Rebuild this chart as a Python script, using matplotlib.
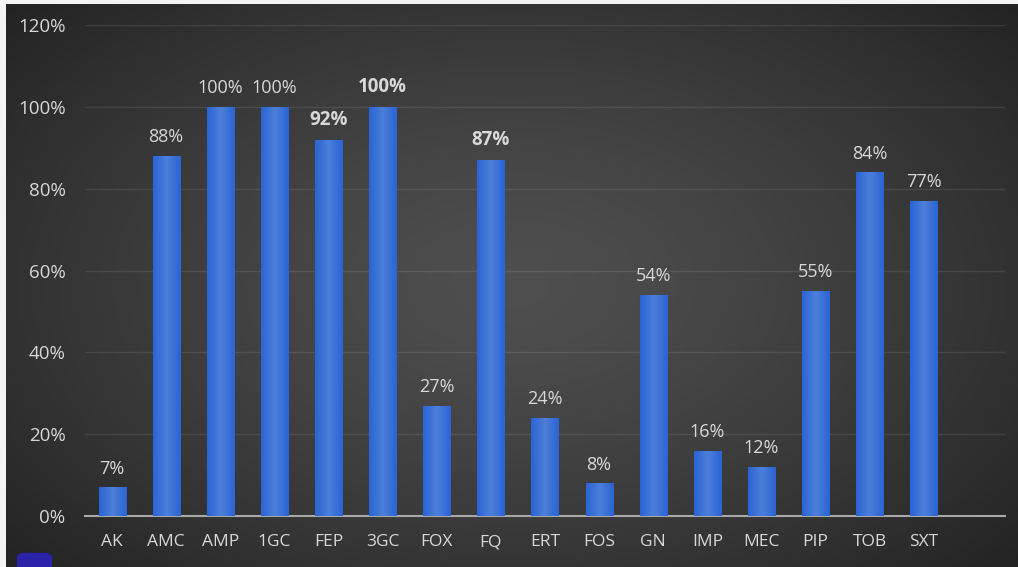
import numpy as np
import matplotlib
matplotlib.use("Agg")
import matplotlib.pyplot as plt
from matplotlib.colors import LinearSegmentedColormap
from matplotlib.patches import FancyBboxPatch

# antibiotic classes and resistance share (fraction)
classes = ["AK", "AMC", "AMP", "1GC", "FEP", "3GC", "FOX", "FQ",
           "ERT", "FOS", "GN", "IMP", "MEC", "PIP", "TOB", "SXT"]
resist = [0.07, 0.88, 1.00, 1.00, 0.92, 1.00, 0.27, 0.87,
          0.24, 0.08, 0.54, 0.16, 0.12, 0.55, 0.84, 0.77]
labels = ["7%", "88%", "100%", "100%", "92%", "100%", "27%", "87%",
          "24%", "8%", "54%", "16%", "12%", "55%", "84%", "77%"]
bold_index = [4, 5, 7]
yticks = [0, 0.2, 0.4, 0.6, 0.8, 1.0, 1.2]
ytick_labels = ["0%", "20%", "40%", "60%", "80%", "100%", "120%"]

W, H = 1018, 567
fig = plt.figure(figsize=(W / 100, H / 100), dpi=100, facecolor="#f4f4f4")

# dark panel with radial vignette
bg = fig.add_axes([6 / W, 0, 1 - 6 / W, 1 - 4 / H])
yy, xx = np.mgrid[-1:1:300j, -1:1:500j]
r = np.sqrt(xx ** 2 + (yy * 0.9) ** 2) / np.sqrt(1 + 0.81)
shade = 0x50 - (0x50 - 0x24) * r ** 1.3
img = np.dstack([shade, shade - 1, shade - 1]) / 255.0
bg.imshow(img, aspect="auto", extent=[0, 1, 0, 1], interpolation="bilinear")
bg.set_axis_off()

ax = fig.add_axes([85 / W, 1 - 516 / H, (1005 - 85) / W, (516 - 25) / H])
ax.patch.set_alpha(0)
x = np.arange(len(classes))
bars = ax.bar(x, resist, width=0.5, color="#3a72d8", zorder=2)

# horizontal gradient inside each bar
grad_cmap = LinearSegmentedColormap.from_list(
    "barblue", ["#2a64d6", "#4c7fd8", "#2a64d6"])
grad = np.linspace(0, 1, 64).reshape(1, -1)
for b in bars:
    x0, w, h = b.get_x(), b.get_width(), b.get_height()
    im = ax.imshow(grad, cmap=grad_cmap, aspect="auto",
                   extent=[x0, x0 + w, 0, h], zorder=3, interpolation="bilinear")
    im.set_clip_path(b)

for i, (v, lab) in enumerate(zip(resist, labels)):
    is_bold = i in bold_index
    ax.annotate(lab, (x[i], v), xytext=(0, 7), textcoords="offset points",
                ha="center", va="bottom", fontsize=13.5 if is_bold else 13,
                color="#d8d8d8", fontweight="bold" if is_bold else "normal",
                fontfamily="Open Sans", zorder=4)

ax.set_xlim(-0.5, 16.5)
ax.set_ylim(0, 1.2)
ax.set_yticks(yticks)
ax.set_yticklabels(ytick_labels)
ax.set_xticks(x)
ax.set_xticklabels(classes)
ax.grid(axis="y", color="#ffffff", alpha=0.09, linewidth=1.0, zorder=0)
ax.set_axisbelow(True)
for s in ["top", "right", "left"]:
    ax.spines[s].set_visible(False)
ax.spines["bottom"].set_color("#a8a8a8")
ax.spines["bottom"].set_linewidth(1.5)
ax.tick_params(axis="both", length=0, colors="#d8d8d8")
ax.tick_params(axis="y", pad=14, labelsize=13.5)
ax.tick_params(axis="x", pad=13, labelsize=12.5)
for t in ax.get_xticklabels() + ax.get_yticklabels():
    t.set_fontfamily("Open Sans")

# small badge at the lower left corner
fig.patches.append(FancyBboxPatch((17 / W, -0.02), 35 / W, 0.045,
                                  boxstyle="round,pad=0,rounding_size=0.008",
                                  transform=fig.transFigure,
                                  facecolor="#2a22a8", edgecolor="none"))

fig.savefig("out.png", dpi=100, facecolor=fig.get_facecolor())
